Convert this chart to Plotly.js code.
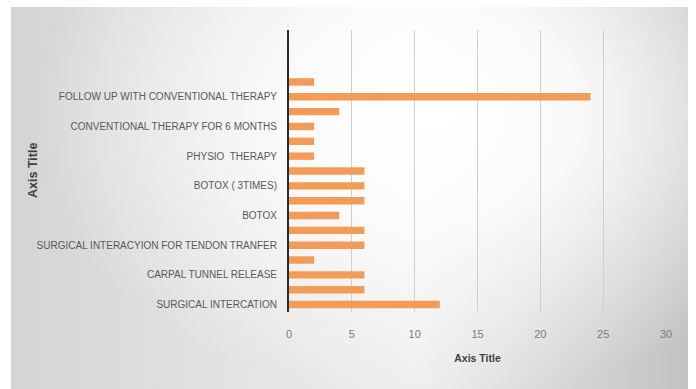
<!DOCTYPE html>
<html>
<head>
<meta charset="utf-8">
<script src="https://cdn.plot.ly/plotly-3.0.1.min.js"></script>
<style>
  html, body { margin: 0; padding: 0; background: #ffffff; }
  #wrap { position: relative; width: 696px; height: 389px; overflow: hidden; }
  #panel {
    position: absolute; left: 11px; top: 7px; width: 677px; height: 382px;
    background:
      radial-gradient(ellipse 60% 75% at 63% 28%, rgba(255,255,255,1) 0%, rgba(255,255,255,0.85) 35%, rgba(255,255,255,0) 100%),
      linear-gradient(90deg, #d4d4d4 0%, #e2e2e2 30%, #eeeeee 60%, #c2c2c2 100%);
  }
  #chart { position: absolute; left: 0; top: 0; width: 696px; height: 389px; }
</style>
</head>
<body>
<div id="wrap">
  <div id="panel"></div>
  <div id="chart"></div>
</div>
<script>
// Treatments listed bottom to top; only every other row carries a label.
const treatments = [
  "SURGICAL INTERCATION", "",
  "CARPAL TUNNEL RELEASE", "",
  "SURGICAL INTERACYION FOR TENDON TRANFER", "",
  "BOTOX", "",
  "BOTOX ( 3TIMES)", "",
  "PHYSIO\u00a0 THERAPY", "",
  "CONVENTIONAL THERAPY FOR 6 MONTHS", "",
  "FOLLOW UP WITH CONVENTIONAL THERAPY", "",
  "", "", ""
];
const counts = [12, 6, 6, 2, 6, 6, 4, 6, 6, 6, 2, 2, 2, 4, 24, 2, null, null, null];
const xTicks = [0, 5, 10, 15, 20, 25, 30];

const rows = treatments.map((_, i) => i + 1);
const labelledRows = rows.filter((r, i) => treatments[i] !== "");
const labelledText = treatments.filter(t => t !== "");

const FONT = "Liberation Sans, Arial, sans-serif";

const trace = {
  type: "bar",
  orientation: "h",
  x: counts,
  y: rows,
  marker: { color: "#f39c57", line: { width: 0 } },
  hoverinfo: "x"
};

const layout = {
  width: 696,
  height: 389,
  margin: { l: 289, r: 30, t: 30, b: 77, pad: 0 },
  paper_bgcolor: "rgba(0,0,0,0)",
  plot_bgcolor: "rgba(0,0,0,0)",
  showlegend: false,
  bargap: 0.5,
  font: { family: FONT, color: "#595959", size: 10 },
  xaxis: {
    range: [0, 30],
    tickvals: xTicks,
    ticktext: xTicks.map(String),
    showgrid: true,
    gridcolor: "#cfcfcf",
    gridwidth: 1,
    zeroline: false,
    showline: false,
    ticks: "",
    ticklabelstandoff: 14,
    tickfont: { family: FONT, size: 11, color: "#7a7a7a" },
    title: { text: "<b>Axis Title</b>", standoff: 15, font: { family: FONT, size: 10.5, color: "#404040" } },
    fixedrange: true
  },
  yaxis: {
    range: [0.5, treatments.length + 0.5],
    tickmode: "array",
    tickvals: labelledRows,
    ticktext: labelledText,
    showgrid: false,
    zeroline: false,
    showline: true,
    linecolor: "#2b2b2b",
    linewidth: 2,
    ticks: "",
    ticklabelstandoff: 8,
    tickfont: { family: FONT, size: 10, color: "#595959" },
    automargin: false,
    fixedrange: true
  },
  annotations: [{
    text: "<b>Axis Title</b>",
    textangle: -90,
    xref: "paper", yref: "paper",
    x: (33 - 289) / 377, y: (312 - 171) / 282,
    xanchor: "center", yanchor: "middle",
    showarrow: false,
    font: { family: FONT, size: 12.5, color: "#404040" }
  }]
};

Plotly.newPlot("chart", [trace], layout, { displayModeBar: false, staticPlot: true });
</script>
</body>
</html>
